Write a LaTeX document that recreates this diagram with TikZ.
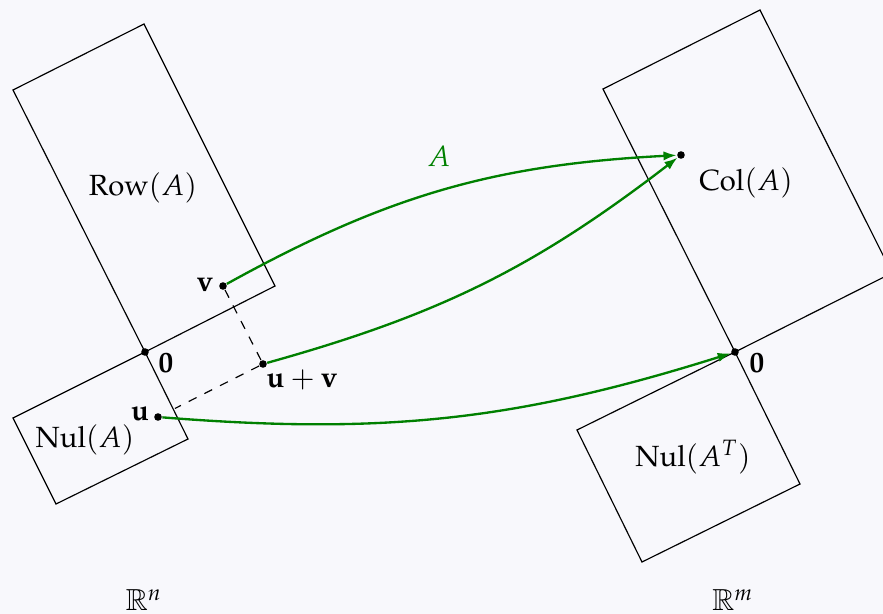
\documentclass[tikz,border=0pt]{standalone}
\usepackage[T1]{fontenc}
\usepackage{mathpazo}
\usetikzlibrary{arrows.meta}
\DeclareMathAlphabet{\myBB}{U}{msb}{m}{n}
\definecolor{bgc}{RGB}{248,248,252}
\definecolor{mapgreen}{RGB}{0,128,0}
\begin{document}
\begin{tikzpicture}[x=0.3425pt,y=-0.3425pt,
  space/.style={draw=black, line width=0.4pt, line join=miter},
  pt/.style={circle, fill=black, inner sep=0pt, minimum size=2.6pt},
  mapto/.style={draw=mapgreen, thick, -{Latex[length=4.5pt,width=3.2pt]}},
  lbl/.style={inner sep=0pt}]
\path[use as bounding box, fill=bgc] (0,0) rectangle (883,614);
\clip (0,0) rectangle (883,614);
% coordinates of the subspace boxes
\coordinate (o1) at (145,352);
\coordinate (o2) at (735,352);
\coordinate (row1) at (275,286);
\coordinate (row2) at (144,24);
\coordinate (row3) at (13,90);
\coordinate (nul1) at (13,418);
\coordinate (nul2) at (56,504);
\coordinate (nul3) at (188,439);
\coordinate (col1) at (892,273);
\coordinate (col2) at (760,10);
\coordinate (col3) at (603,89);
\coordinate (nt1) at (577,430);
\coordinate (nt2) at (642,562);
\coordinate (nt3) at (800,484);
% boxes
\draw[space] (o1) -- (row1) -- (row2) -- (row3) -- cycle;
\draw[space] (o1) -- (nul1) -- (nul2) -- (nul3) -- cycle;
\draw[space] (o2) -- (col1) -- (col2) -- (col3) -- cycle;
\draw[space] (o2) -- (nt1) -- (nt2) -- (nt3) -- cycle;
% points
\node[pt] (z1) at (o1) {};
\node[pt] (z2) at (o2) {};
\node[pt] (v) at (223,286) {};
\node[pt] (uv) at (263,364) {};
\node[pt] (u) at (158,417) {};
\node[pt] (c) at (681,155) {};
% dashed construction
\draw[dashed] (v) -- (uv);
\draw[dashed, shorten >=5pt] (uv) -- (u);
% maps
\draw[mapto] (v) to[bend left=13] (c);
\draw[mapto] (uv) to[bend right=11] (c);
\draw[mapto] (u) to[bend right=11] (z2);
% labels
\node[lbl] (trow) at (143,188) {Row$(A)$};
\node[lbl] (tnul) at (85,440) {Nul$(A)$};
\node[lbl] (tcol) at (746,183) {Col$(A)$};
\node[lbl] (tnt) at (693,457) {Nul$(A^T)$};
\node[lbl] (tv) at (205,285) {$\mathbf{v}$};
\node[lbl] (tz1) at (166,363) {$\mathbf{0}$};
\node[lbl] (tuv) at (302,380) {$\mathbf{u}+\mathbf{v}$};
\node[lbl] (tu) at (140,414) {$\mathbf{u}$};
\node[lbl] (tz2) at (757,363) {$\mathbf{0}$};
\node[lbl, text=mapgreen] (ta) at (439,156) {$A$};
\node[lbl] (trn) at (144,600) {$\myBB{R}^n$};
\node[lbl] (trm) at (733,600) {$\myBB{R}^m$};
\end{tikzpicture}
\end{document}
